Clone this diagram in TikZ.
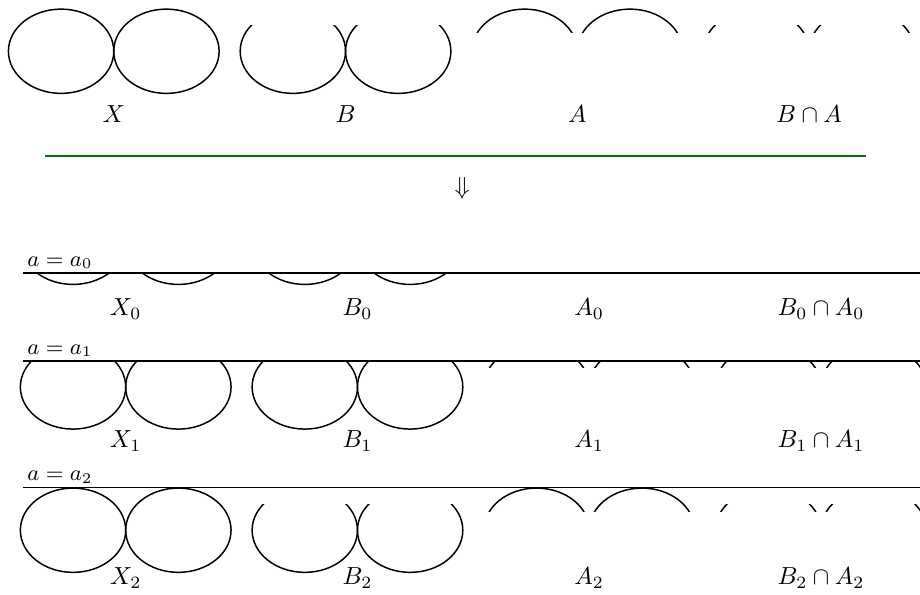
\documentclass[tikz,border=0pt]{standalone}
\usepackage{amsmath,amssymb}
\usepackage{tikz}
\usetikzlibrary{positioning}

% part of the figure eight between two heights (relative to the centres)
\newcommand{\eightpart}[4]{%
  \begin{scope}
    \clip ({#1-1.6},{#2+(#3)}) rectangle ({#1+1.6},{#2+(#4)});
    \draw[curve] ({#1-0.75},{#2}) ellipse [x radius=0.75, y radius=0.6];
    \draw[curve] ({#1+0.75},{#2}) ellipse [x radius=0.75, y radius=0.6];
  \end{scope}}

\begin{document}
\begin{tikzpicture}[
    curve/.style={line width=0.6pt},
    level/.style={line width=0.6pt},
    sepline/.style={line width=1pt, green!45!black},
    levlab/.style={anchor=south west, inner sep=1.5pt, font=\small},
  ]
    \useasboundingbox (0,0) rectangle (13.1,-8.47);
    \clip (0,0) rectangle (13.1,-8.47);

    % top row
    \foreach \lo/\hi/\txt [count=\k from 0] in {-1/1/X, -1/0.37/B, 0.27/1/A, 0.27/0.37/B\cap A} {
      \eightpart{1.62+3.3*\k}{-0.73}{\lo}{\hi}
      \node (top\k) at ({1.62+3.3*\k},-1.62) {$\txt$};
    }

    \draw[sepline] (0.64,-2.22) coordinate (sepl) -- (12.33,-2.22) coordinate (sepr);
    \node (implies) at (6.58,-2.68) {$\Downarrow$};

    % levels
    \foreach \r/\cy/\lv in {0/-3.45/-0.44, 1/-5.51/0.37, 2/-7.55/0.61} {
      \draw[level] (0.33,{\cy+(\lv)}) coordinate (start\r) -- (13.3,{\cy+(\lv)}) coordinate (end\r);
      \node[levlab] (lev\r) at (start\r) {$a=a_{\r}$};
    }

    % row 0
    \eightpart{1.79}{-3.45}{-1}{-0.44}
    \eightpart{5.09}{-3.45}{-1}{-0.44}
    % row 1
    \foreach \lo/\hi [count=\k from 0] in {-1/0.37, -1/0.37, 0.27/0.37, 0.27/0.37} {
      \eightpart{1.79+3.3*\k}{-5.51}{\lo}{\hi}
    }
    % row 2
    \foreach \lo/\hi [count=\k from 0] in {-1/1, -1/0.37, 0.27/1, 0.27/0.37} {
      \eightpart{1.79+3.3*\k}{-7.55}{\lo}{\hi}
    }

    \foreach \r/\ly in {0/-4.40, 1/-6.28, 2/-8.23} {
      \node (x\r) at (1.79,\ly) {$X_{\r}$};
      \node (b\r) at (5.09,\ly) {$B_{\r}$};
      \node (a\r) at (8.39,\ly) {$A_{\r}$};
      \node (ba\r) at (11.69,\ly) {$B_{\r}\cap A_{\r}$};
    }
  \end{tikzpicture}
\end{document}
